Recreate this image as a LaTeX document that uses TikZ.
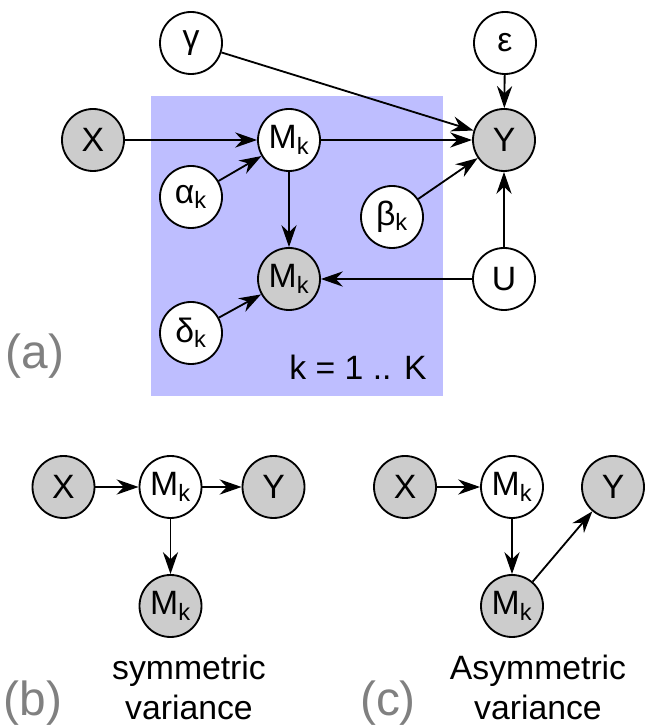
\documentclass[tikz,border=0pt]{standalone}
\usepackage{fontspec}
\setmainfont{Liberation Sans}
\usetikzlibrary{arrows.meta}

\definecolor{platecol}{RGB}{190,190,255}

\begin{document}
\begin{tikzpicture}[
    var/.style={draw, circle, line width=1.3pt, fill=white,
                minimum size=1.55cm, inner sep=0pt,
                font=\fontsize{24}{28}\selectfont},
    obs/.style={var, fill=black!20},
    edge/.style={->, line width=1.3pt},
    lbl/.style={text=black!50, font=\fontsize{34}{40}\selectfont},
    caption/.style={align=center, font=\fontsize{24}{28.5}\selectfont},
    >={Stealth[length=0.55cm, width=0.38cm]}
  ]
  \useasboundingbox (0, 0) rectangle (16.125, 18.125);

  % plate
  \fill[platecol] (3.775, 8.225) rectangle (11.075, 15.725);
  \node[font=\fontsize{24}{28}\selectfont] (plate) at (8.95, 8.95)
    {k = 1 .. K};

  % (a) full model
  \node[var] (gam)   at (4.775, 17.05)  {γ};
  \node[var] (eps)   at (12.625, 17.05) {ε};
  \node[obs] (x)     at (2.325, 14.625) {X};
  \node[var] (m)     at (7.225, 14.625) {M\textsubscript{k}};
  \node[obs] (y)     at (12.6, 14.625)  {Y};
  \node[var] (alpha) at (4.775, 13.2)   {α\textsubscript{k}};
  \node[var] (beta)  at (9.8, 12.7)     {β\textsubscript{k}};
  \node[obs] (mo)    at (7.225, 11.15)  {M\textsubscript{k}};
  \node[var] (u)     at (12.6, 11.15)   {U};
  \node[var] (delta) at (4.775, 9.8)    {δ\textsubscript{k}};

  \foreach \a/\b in {gam/y, eps/y, x/m, m/y, alpha/m, beta/y,
                     m/mo, u/mo, u/y, delta/mo}
    \draw[edge] (\a) -- (\b);

  \node[lbl] (la) at (0.875, 9.225) {(a)};

  % (b) symmetric variance
  \node[obs] (xb)  at (1.5875, 5.95) {X};
  \node[var] (mb)  at (4.2625, 5.95) {M\textsubscript{k}};
  \node[obs] (yb)  at (6.8375, 5.95) {Y};
  \node[obs] (mob) at (4.2625, 2.975) {M\textsubscript{k}};

  \foreach \a/\b in {xb/mb, mb/yb, mb/mob}
    \draw[edge] (\a) -- (\b);

  \node[caption] (capb) at (4.725, 0.94) {symmetric\\variance};
  \node[lbl] (lb) at (0.825, 0.55) {(b)};

  % (c) asymmetric variance
  \node[obs] (xc)  at (10.125, 5.95) {X};
  \node[var] (mc)  at (12.8, 5.95)   {M\textsubscript{k}};
  \node[obs] (yc)  at (15.325, 5.95) {Y};
  \node[obs] (moc) at (12.8, 2.975)  {M\textsubscript{k}};

  \foreach \a/\b in {xc/mc, mc/moc, moc/yc}
    \draw[edge] (\a) -- (\b);

  \node[caption] (capc) at (13.45, 0.94) {Asymmetric\\variance};
  \node[lbl] (lc) at (9.7, 0.55) {(c)};
\end{tikzpicture}
\end{document}
